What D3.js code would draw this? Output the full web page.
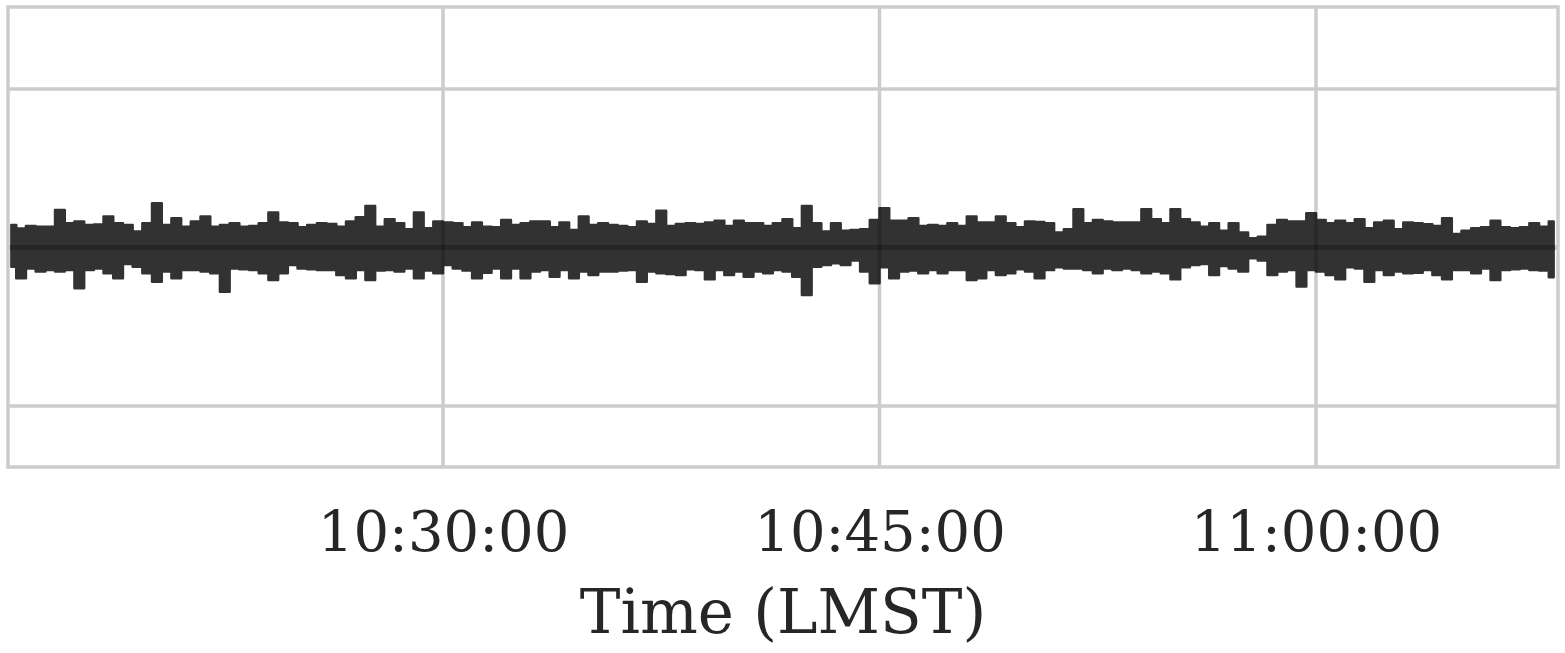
<!DOCTYPE html>
<html>
<head>
<meta charset="utf-8">
<script src="https://cdn.jsdelivr.net/npm/d3@7"></script>
<style>
  body { margin: 0; background: #fff; }
  svg { display: block; }
</style>
</head>
<body>
<script>
// envelope of the signal, one max/min pair per 20 s window starting 10:15:00
var bucketSeconds = 20;
var upper = [1.42,1.2,1.35,1.3,1.3,2.37,1.52,1.63,1.42,1.45,1.95,1.52,1.42,1.0,1.52,2.79,1.42,1.84,1.31,1.63,
  1.95,1.31,1.42,1.52,1.31,1.36,1.52,2.2,1.57,1.52,1.27,1.42,1.52,1.48,1.31,1.63,1.9,2.62,1.31,1.78,
  1.52,1.15,2.2,1.21,1.63,1.57,1.52,1.27,1.57,1.31,1.27,1.74,1.42,1.52,1.63,1.63,1.27,1.57,1.1,1.95,
  1.42,1.52,1.42,1.36,1.27,1.63,1.48,2.32,1.36,1.48,1.52,1.48,1.57,1.69,1.36,1.69,1.52,1.52,1.36,1.52,
  1.78,1.21,2.62,1.52,1.0,1.52,1.06,1.1,1.15,1.74,2.47,1.69,1.69,1.84,1.36,1.42,1.36,1.52,1.36,1.95,
  1.57,1.57,1.95,1.52,1.27,1.63,1.61,1.52,0.94,1.15,2.41,1.52,1.74,1.63,1.57,1.57,1.57,2.41,1.78,1.52,
  2.41,1.78,1.57,1.31,1.52,1.06,1.52,0.94,0.58,0.68,1.42,1.74,1.63,1.63,2.16,1.74,1.52,1.69,1.52,1.78,
  1.21,1.57,1.69,1.15,1.57,1.52,1.46,1.36,1.84,0.85,1.06,1.21,1.27,1.69,1.27,1.21,1.27,1.52,1.31,1.63];
var lower = [-1.21,-1.95,-1.32,-1.52,-1.42,-1.52,-1.42,-2.58,-1.42,-1.32,-1.63,-1.95,-1.04,-1.21,-1.63,-2.16,-1.52,-1.95,-1.42,-1.42,
  -1.52,-1.63,-2.79,-1.32,-1.38,-1.42,-1.63,-2.05,-1.63,-1.1,-1.32,-1.38,-1.42,-1.42,-1.73,-1.95,-1.42,-2.05,-1.46,-1.42,
  -1.52,-1.32,-1.95,-1.46,-1.63,-1.1,-1.32,-1.46,-1.95,-1.59,-1.32,-1.95,-1.32,-1.95,-1.52,-1.42,-1.84,-1.42,-1.95,-1.52,
  -1.73,-1.52,-1.52,-1.46,-1.42,-2.16,-1.52,-1.63,-1.67,-1.73,-1.38,-1.42,-2.01,-1.42,-1.73,-1.52,-1.84,-1.52,-1.63,-1.42,
  -1.52,-1.84,-3.0,-1.21,-1.1,-1.0,-1.1,-0.83,-1.52,-2.26,-1.25,-1.95,-1.52,-1.46,-1.63,-1.42,-1.63,-1.42,-1.42,-2.05,
  -1.95,-1.42,-1.73,-1.63,-1.38,-1.52,-1.95,-1.42,-1.25,-1.32,-1.32,-1.42,-1.63,-1.32,-1.42,-1.32,-1.42,-1.63,-1.52,-1.63,
  -2.01,-1.25,-1.1,-1.04,-1.73,-1.17,-1.32,-1.52,-0.68,-0.83,-1.73,-1.52,-1.42,-2.47,-1.42,-1.52,-1.73,-2.01,-1.25,-1.32,
  -2.16,-1.42,-1.73,-1.52,-1.63,-1.59,-1.42,-1.73,-2.01,-1.42,-1.42,-1.63,-1.32,-2.05,-1.42,-1.38,-1.32,-1.42,-1.46,-1.88];

// running mean (dark band in the middle)
var meanTimes = ["10:15:04", "10:30:00", "10:45:00", "11:00:00", "11:08:18"];
var meanValues = [0.0, 0.0, 0.0, 0.0, 0.0];

var tickTimes = ["10:30:00", "10:45:00", "11:00:00"];
var gridValues = [-10, 10];
var xStart = "10:15:03", xEnd = "11:08:19";
var yMin = -13.85, yMax = 15.17;

var parseTime = d3.timeParse("%H:%M:%S");

var margin = {top: 7, right: 7, bottom: 186, left: 8},
  width = 1565 - margin.left - margin.right,
  height = 653 - margin.top - margin.bottom;

var t0 = parseTime("10:15:00");
var data = upper.map(function(u, i) {
  return {t: new Date(t0.getTime() + (i * bucketSeconds + bucketSeconds / 2) * 1000), hi: u, lo: lower[i]};
});
var meanData = meanTimes.map(function(s, i) { return {t: parseTime(s), v: meanValues[i]}; });

var x = d3.scaleTime().domain([parseTime(xStart), parseTime(xEnd)]).range([0, width]);
var y = d3.scaleLinear().domain([yMin, yMax]).range([height, 0]);

var svg = d3.select("body").append("svg")
  .attr("width", 1565)
  .attr("height", 653)
  .append("g")
  .attr("transform", "translate(" + margin.left + "," + margin.top + ")");

// grid
svg.append("g")
  .selectAll("line.vx")
  .data(tickTimes.map(parseTime))
  .enter().append("line")
  .attr("x1", function(d) { return x(d); })
  .attr("x2", function(d) { return x(d); })
  .attr("y1", 0).attr("y2", height)
  .style("stroke", "#cccccc").style("stroke-width", 3.5);

svg.append("g")
  .selectAll("line.hy")
  .data(gridValues)
  .enter().append("line")
  .attr("x1", 0).attr("x2", width)
  .attr("y1", function(d) { return y(d); })
  .attr("y2", function(d) { return y(d); })
  .style("stroke", "#cccccc").style("stroke-width", 3.5);

// signal band
var band = d3.area()
  .curve(d3.curveStep)
  .x(function(d) { return x(d.t); })
  .y0(function(d) { return y(d.lo); })
  .y1(function(d) { return y(d.hi); });

svg.append("g")
  .attr("opacity", 0.8)
  .append("path")
  .datum(data)
  .attr("d", band)
  .style("fill", "#000")
  .style("stroke", "#000")
  .style("stroke-width", 2.5)
  .style("stroke-linejoin", "round");

var meanLine = d3.line()
  .x(function(d) { return x(d.t); })
  .y(function(d) { return y(d.v); });

svg.append("path")
  .datum(meanData)
  .attr("d", meanLine)
  .style("fill", "none")
  .style("stroke", "#000")
  .style("stroke-opacity", 0.25)
  .style("stroke-width", 5);

// frame
svg.append("rect")
  .attr("x", 0).attr("y", 0)
  .attr("width", width).attr("height", height)
  .style("fill", "none")
  .style("stroke", "#cccccc")
  .style("stroke-width", 3.5);

// x axis, labels only
var xAxis = svg.append("g")
  .attr("transform", "translate(0," + height + ")")
  .call(d3.axisBottom(x).tickValues(tickTimes.map(parseTime)).tickFormat(d3.timeFormat("%H:%M:%S")).tickSize(0).tickPadding(44));
xAxis.select(".domain").remove();
xAxis.selectAll("text")
  .style("font-family", "'DejaVu Serif', serif")
  .style("font-size", "56px")
  .style("fill", "#262626");

svg.append("text")
  .attr("x", width / 2)
  .attr("y", 626)
  .attr("text-anchor", "middle")
  .style("font-family", "'DejaVu Serif', serif")
  .style("font-size", "61px")
  .style("fill", "#262626")
  .text("Time (LMST)");
</script>
</body>
</html>
